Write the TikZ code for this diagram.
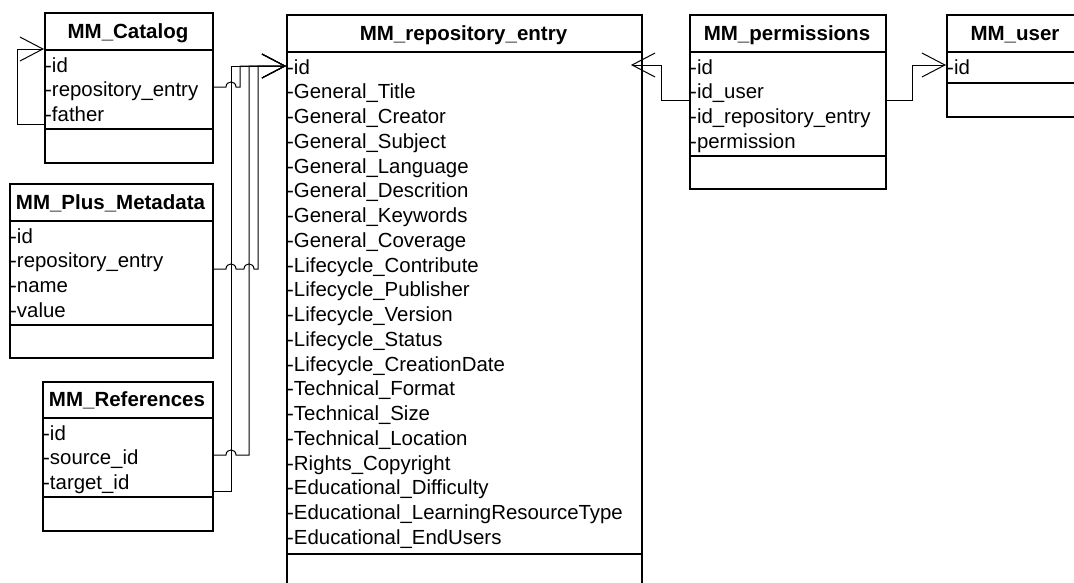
\documentclass[tikz,border=0pt]{standalone}
\usepackage{fontspec}
\setmainfont{Liberation Sans}
\usetikzlibrary{arrows.meta}
\begin{document}
\begin{tikzpicture}[x=1pt,y=-1pt,
  box/.style={draw, line width=1.6pt, rectangle, inner sep=0pt, anchor=north west},
  divider/.style={line width=1.6pt},
  title/.style={font=\fontsize{20.5}{24}\selectfont\bfseries, inner sep=0pt, anchor=base},
  attr/.style={font=\fontsize{20.4}{24}\selectfont, inner sep=0pt, anchor=base west},
  conn/.style={line width=1pt, line join=miter},
  arr/.style={conn, -{Straight Barb[length=23pt,width=24pt,line cap=butt]}}]
\useasboundingbox (0,0) rectangle (1074,582);
\clip (0,0) rectangle (1074,582);
\def\bump#1#2{-- (#1-5,#2) .. controls (#1-5,#2-6.7) and (#1+5,#2-6.7) .. (#1+5,#2)}
% ---------- boxes ----------
\node[box, minimum width=168pt, minimum height=150pt] (cat) at (44,12) {};
\node[box, minimum width=203pt, minimum height=174pt] (meta) at (9,183) {};
\node[box, minimum width=170pt, minimum height=149pt] (refs) at (42,381) {};
\node[box, minimum width=355pt, minimum height=600pt] (repo) at (286,14) {};
\node[box, minimum width=196pt, minimum height=174pt] (perm) at (689,14) {};
\node[box, minimum width=138pt, minimum height=102pt] (user) at (946,14) {};
% dividers
\draw[divider] (cat.west |- 0,50) -- (cat.east |- 0,50);
\draw[divider] (cat.west |- 0,129) -- (cat.east |- 0,129);
\draw[divider] (meta.west |- 0,221) -- (meta.east |- 0,221);
\draw[divider] (meta.west |- 0,325) -- (meta.east |- 0,325);
\draw[divider] (refs.west |- 0,418) -- (refs.east |- 0,418);
\draw[divider] (refs.west |- 0,497) -- (refs.east |- 0,497);
\draw[divider] (repo.west |- 0,52) -- (repo.east |- 0,52);
\draw[divider] (repo.west |- 0,554) -- (repo.east |- 0,554);
\draw[divider] (perm.west |- 0,52) -- (perm.east |- 0,52);
\draw[divider] (perm.west |- 0,156) -- (perm.east |- 0,156);
\draw[divider] (user.west |- 0,52) -- (user.east |- 0,52);
\draw[divider] (user.west |- 0,83) -- (user.east |- 0,83);
% titles
\node[title] (cat-t) at (128,38.3) {MM\_Catalog};
\node[title] (meta-t) at (110.5,209.3) {MM\_Plus\_Metadata};
\node[title] (refs-t) at (127,406.8) {MM\_References};
\node[title] (repo-t) at (463.5,40.3) {MM\_repository\_entry};
\node[title] (perm-t) at (787,40.3) {MM\_permissions};
\node[title] (user-t) at (1015,40.3) {MM\_user};
% attributes
\foreach \t [count=\i from 0] in {-id,-repository\_entry,-father}
  \node[attr] (cat-a\i) at (45,72.2+24.75*\i) {\t};
\foreach \t [count=\i from 0] in {-id,-repository\_entry,-name,-value}
  \node[attr] (meta-a\i) at (10,243.2+24.75*\i) {\t};
\foreach \t [count=\i from 0] in {-id,-source\_id,-target\_id}
  \node[attr] (refs-a\i) at (43,440.2+24.75*\i) {\t};
\foreach \t [count=\i from 0] in {-id,-General\_Title,-General\_Creator,-General\_Subject,-General\_Language,-General\_Descrition,-General\_Keywords,-General\_Coverage,-Lifecycle\_Contribute,-Lifecycle\_Publisher,-Lifecycle\_Version,-Lifecycle\_Status,-Lifecycle\_CreationDate,-Technical\_Format,-Technical\_Size,-Technical\_Location,-Rights\_Copyright,-Educational\_Difficulty,-Educational\_LearningResourceType,-Educational\_EndUsers}
  \node[attr] (repo-a\i) at (287,74.2+24.75*\i) {\t};
\foreach \t [count=\i from 0] in {-id,-id\_user,-id\_repository\_entry,-permission}
  \node[attr] (perm-a\i) at (690,74.2+24.75*\i) {\t};
\node[attr] (user-a0) at (947,74.2) {-id};
% ---------- connector end points ----------
\coordinate (repo-in) at (286,66);
\coordinate (repo-in2) at (631,65);
\coordinate (cat-re) at (212,87);
\coordinate (cat-fa) at (44,124);
\coordinate (cat-in) at (44,49);
\coordinate (meta-re) at (212,269);
\coordinate (refs-src) at (212,455);
\coordinate (refs-tgt) at (212,491);
\coordinate (perm-l) at (689,100);
\coordinate (perm-r) at (885,100);
\coordinate (user-in) at (946,65);
% ---------- connectors ----------
\draw[arr] (cat-fa) -- (17,124) -- (17,49) -- (cat-in);
\draw[arr] (cat-re) \bump{231}{87} -- (240,87) -- (240,66) -- (repo-in);
\draw[arr] (meta-re) \bump{231}{269} \bump{249}{269} -- (258,269) -- (258,66) -- (repo-in);
\draw[arr] (refs-src) \bump{231}{455} -- (249,455) -- (249,66) -- (repo-in);
\draw[arr] (refs-tgt) -- (231,491) -- (231,66) -- (repo-in);
\draw[arr] (perm-l) -- (661,100) -- (661,65) -- (repo-in2);
\draw[arr] (perm-r) -- (912,100) -- (912,65) -- (user-in);
\end{tikzpicture}
\end{document}
